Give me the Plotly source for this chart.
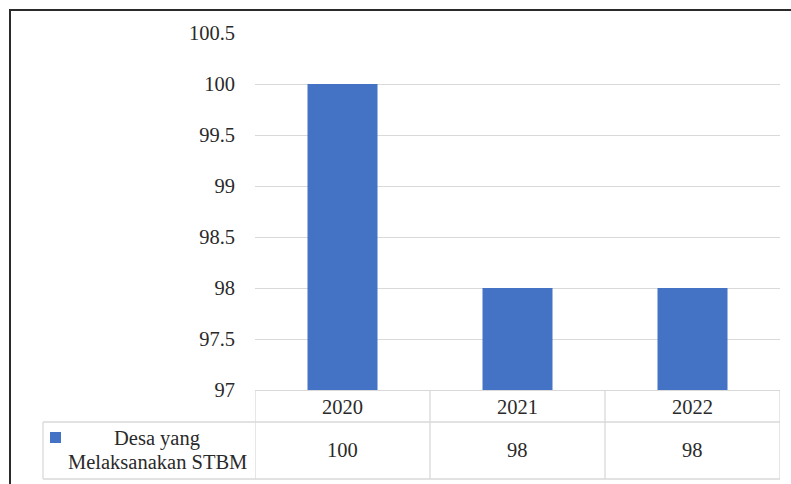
import plotly.graph_objects as go

# Data
years = ["2020", "2021", "2022"]
desa_stbm = [100, 98, 98]
series_name = ["Desa yang", "Melaksanakan STBM"]
y_ticks = [97, 97.5, 98, 98.5, 99, 99.5, 100, 100.5]
y_tick_labels = ["97", "97.5", "98", "98.5", "99", "99.5", "100", "100.5"]

# Layout geometry (pixels)
W, H = 791, 484
PL, PR, PT, PB = 255, 780, 33, 390  # plot area edges

BAR_COLOR = "#4472C4"
GRID = "#d9d9d9"
TEXT = "#2a2a2a"
FONT = "Liberation Serif, Times New Roman, serif"
FS = 20.5


def fx(x):
    return (x - PL) / (PR - PL)


def fy(y):
    return (PB - y) / (PB - PT)


fig = go.Figure()
fig.add_trace(go.Bar(
    x=years, y=desa_stbm, marker=dict(color=BAR_COLOR, line=dict(width=0)),
    width=0.4, name=" ".join(series_name), showlegend=False,
))

shapes = []
line = dict(color=GRID, width=1.3)
# outer frame (left and top visible)
shapes.append(dict(type="rect", xref="paper", yref="paper",
                   x0=fx(10), x1=fx(1000), y0=fy(800), y1=fy(10),
                   line=dict(color="#2b2b2b", width=2), layer="above"))
# data table: header row + value row
row_mid, row_bot = 422, 479
shapes.append(dict(type="line", xref="paper", yref="paper",
                   x0=fx(43), x1=1, y0=fy(row_mid), y1=fy(row_mid), line=line))
shapes.append(dict(type="line", xref="paper", yref="paper",
                   x0=fx(43), x1=1, y0=fy(row_bot), y1=fy(row_bot), line=line))
shapes.append(dict(type="line", xref="paper", yref="paper",
                   x0=fx(43), x1=fx(43), y0=fy(row_mid), y1=fy(row_bot), line=line))
for b in [-0.5, 0.5, 1.5, 2.5]:
    shapes.append(dict(type="line", xref="x", yref="paper",
                       x0=b, x1=b, y0=0, y1=fy(row_bot), line=line))
# legend key
shapes.append(dict(type="rect", xref="paper", yref="paper",
                   x0=fx(50), x1=fx(61), y0=fy(443), y1=fy(432),
                   fillcolor=BAR_COLOR, line=dict(width=0)))

cell_font = dict(family=FONT, size=FS, color=TEXT)
annotations = []
for i, (yr, v) in enumerate(zip(years, desa_stbm)):
    annotations.append(dict(x=i, y=fy(407), xref="x", yref="paper", text=yr,
                            xanchor="center", yanchor="middle",
                            showarrow=False, font=cell_font))
    annotations.append(dict(x=i, y=fy(450), xref="x", yref="paper", text=str(v),
                            xanchor="center", yanchor="middle",
                            showarrow=False, font=cell_font))
for line_text, ypix in zip(series_name, [438, 462]):
    annotations.append(dict(x=fx(157), y=fy(ypix), xref="paper", yref="paper",
                            text=line_text, xanchor="center", yanchor="middle",
                            showarrow=False, font=cell_font))

fig.update_layout(
    width=W, height=H,
    margin=dict(l=PL, r=W - PR, t=PT, b=H - PB, pad=0),
    paper_bgcolor="white", plot_bgcolor="white",
    font=dict(family=FONT, size=FS, color=TEXT),
    xaxis=dict(type="category", showticklabels=False, showgrid=False, zeroline=False,
               showline=True, linecolor=GRID, linewidth=1.3, range=[-0.5, 2.5]),
    yaxis=dict(range=[97, 100.5], tickmode="array", tickvals=y_ticks, ticktext=y_tick_labels,
               showgrid=True, gridcolor=GRID, gridwidth=1.3, zeroline=False,
               showline=False, ticks="", ticklabelstandoff=19,
               tickfont=dict(family=FONT, size=FS, color=TEXT)),
    shapes=shapes, annotations=annotations,
)

fig.write_html("out.html")
